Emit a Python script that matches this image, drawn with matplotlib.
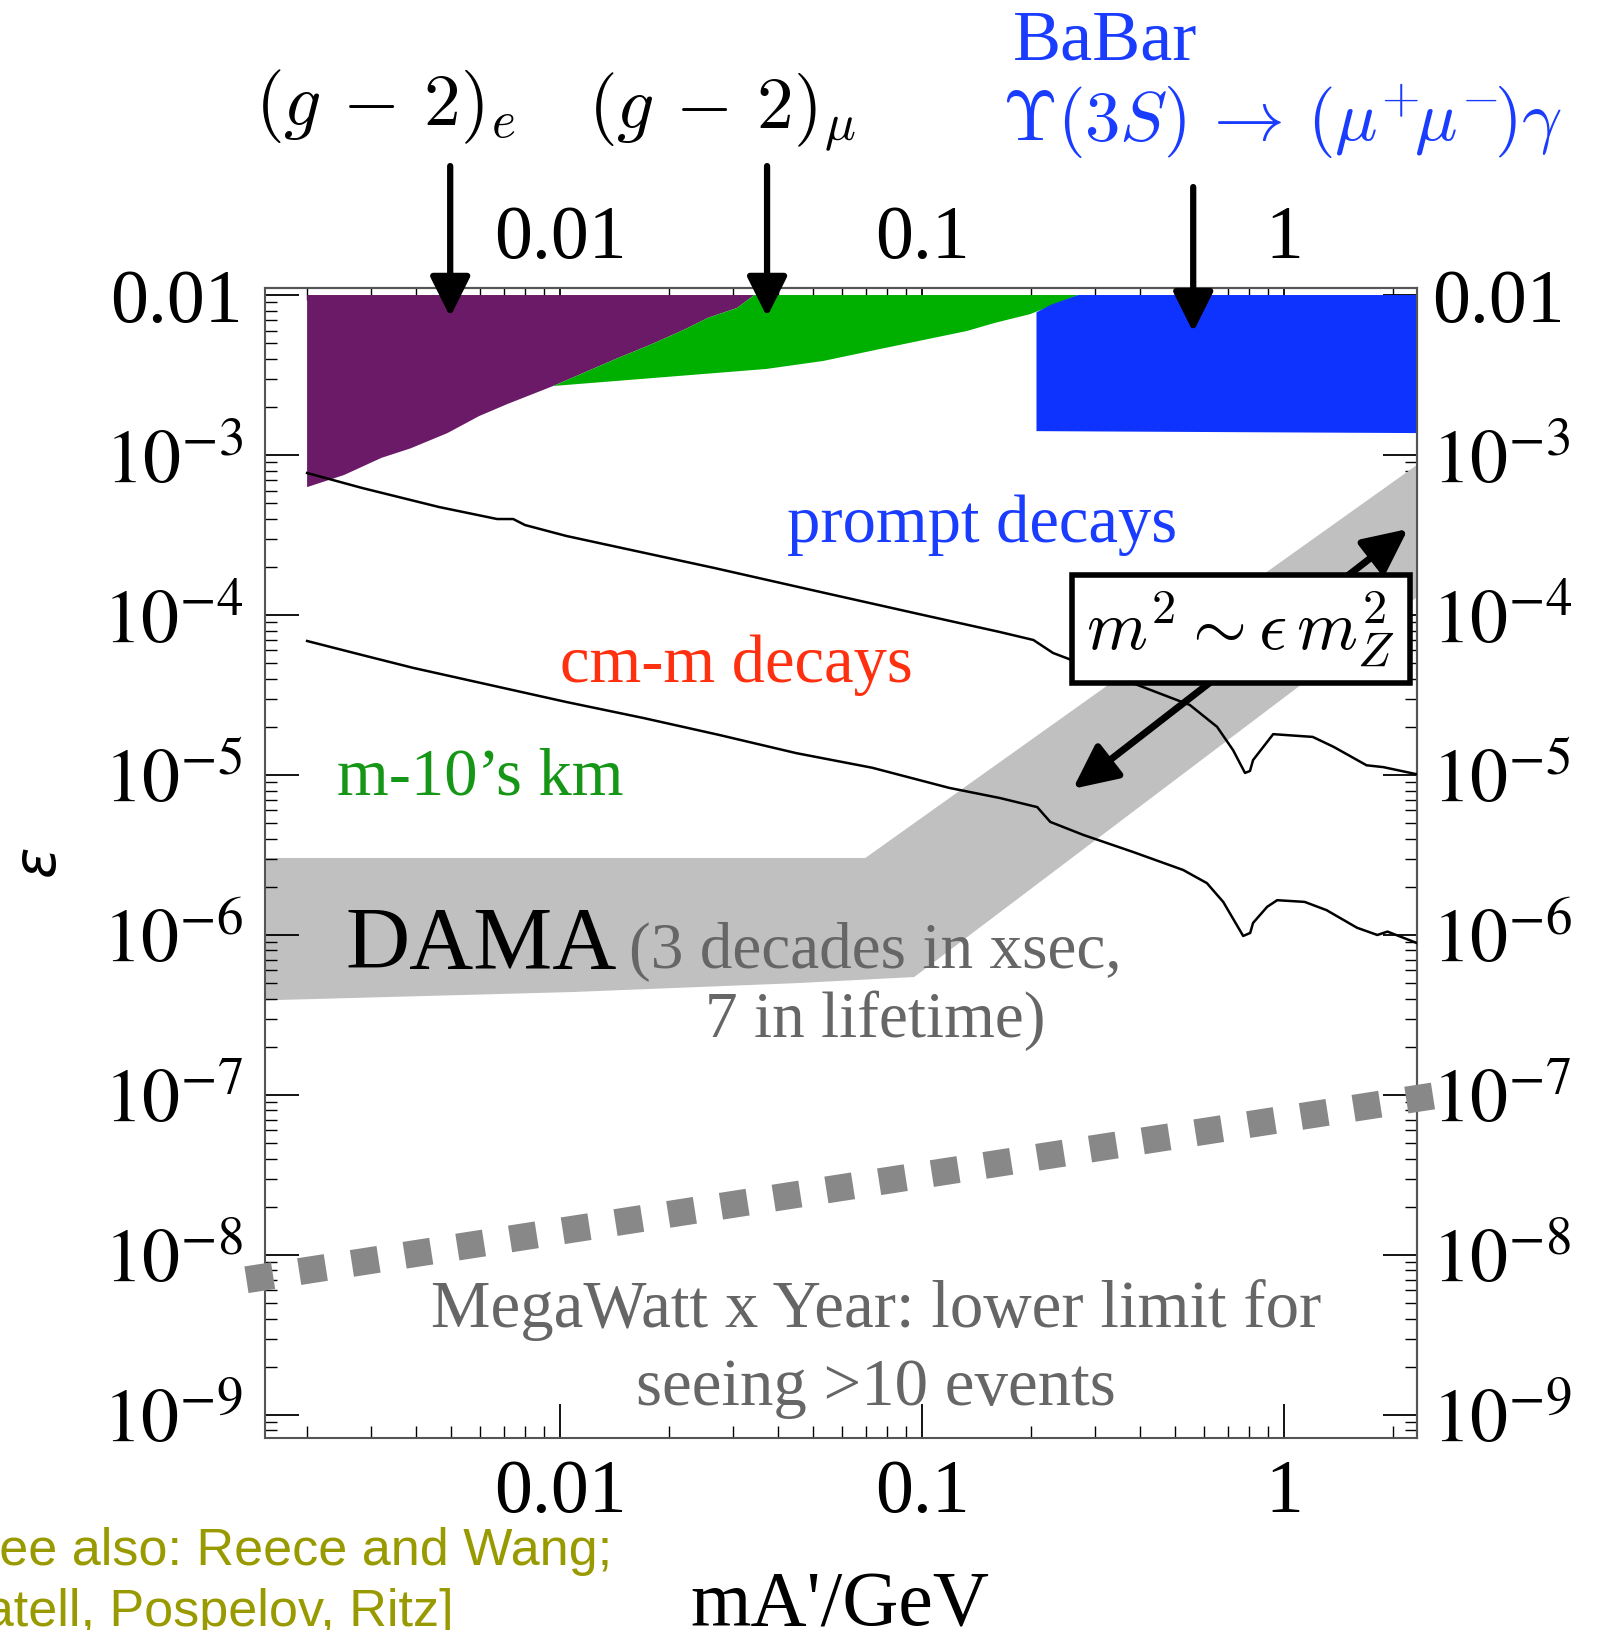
import numpy as np
import matplotlib
matplotlib.use('Agg')
import matplotlib.pyplot as plt
from matplotlib.ticker import FixedLocator, FixedFormatter, LogLocator, NullFormatter

plt.rcParams['font.family'] = ['Liberation Serif', 'DejaVu Serif']
plt.rcParams['mathtext.fontset'] = 'stix'

# --- excluded regions (mass in GeV, epsilon) ---
# (g-2)_e : lower edge of purple region
ge_edge_m = [0.0020, 0.00253, 0.00321, 0.00386, 0.00488, 0.00597, 0.00714, 0.00957]
ge_edge_eps = [6.3e-4, 7.5e-4, 9.6e-4, 1.1e-3, 1.37e-3, 1.75e-3, 2.08e-3, 2.7e-3]
# boundary between (g-2)_e and (g-2)_mu
pg_edge_m = [0.00957, 0.0143, 0.0178, 0.0221, 0.0256, 0.0308, 0.0344]
pg_edge_eps = [2.7e-3, 4.0e-3, 4.9e-3, 6.1e-3, 7.2e-3, 8.3e-3, 1e-2]
# (g-2)_mu : lower edge of green region
gm_edge_m = [0.00957, 0.0371, 0.0533, 0.0766, 0.133, 0.159, 0.199, 0.27]
gm_edge_eps = [2.7e-3, 3.45e-3, 3.87e-3, 4.6e-3, 5.96e-3, 6.7e-3, 7.6e-3, 1e-2]
eps_top = 1e-2
# BaBar
babar_m = [0.207, 0.207, 0.226, 0.27, 2.5, 2.5]
babar_eps = [1.41e-3, 7.8e-3, 8.66e-3, 1e-2, 1e-2, 1.37e-3]

# decay length contours
upper_m = [0.0020, 0.00284, 0.00463, 0.0067, 0.00742, 0.0080, 0.0104, 0.0144, 0.0266,
           0.0526, 0.1007, 0.164, 0.203, 0.230, 0.407, 0.549, 0.653, 0.723, 0.780,
           0.805, 0.821, 0.933, 1.20, 1.37, 1.69, 1.88, 2.33]
upper_eps = [7.72e-4, 6.22e-4, 4.73e-4, 3.98e-4, 3.98e-4, 3.65e-4, 3.12e-4, 2.66e-4, 1.97e-4,
             1.39e-4, 1.0e-4, 7.83e-5, 6.98e-5, 5.79e-5, 3.55e-5, 2.74e-5, 2.0e-5, 1.43e-5,
             1.03e-5, 1.06e-5, 1.24e-5, 1.80e-5, 1.73e-5, 1.50e-5, 1.15e-5, 1.12e-5, 1.01e-5]
lower_m = [0.0020, 0.00284, 0.00393, 0.00641, 0.0104, 0.0170, 0.0275, 0.0449, 0.0728,
           0.119, 0.164, 0.208, 0.226, 0.279, 0.383, 0.526, 0.612, 0.679, 0.771, 0.806,
           0.821, 0.898, 0.957, 1.14, 1.31, 1.59, 1.81, 1.93, 2.33]
lower_eps = [6.88e-5, 5.62e-5, 4.67e-5, 3.65e-5, 2.86e-5, 2.27e-5, 1.78e-5, 1.37e-5, 1.11e-5,
             8.3e-6, 7.18e-6, 6.3e-6, 5.09e-6, 4.22e-6, 3.30e-6, 2.55e-6, 2.11e-6, 1.61e-6,
             9.86e-7, 1.03e-6, 1.19e-6, 1.50e-6, 1.65e-6, 1.61e-6, 1.43e-6, 1.11e-6, 1.0e-6,
             1.05e-6, 8.9e-7]

# DAMA band
dama_up_m = [0.0015, 0.0697, 2.4]
dama_up_eps = [3.03e-6, 3.03e-6, 9.1e-4]
dama_lo_m = [0.0015, 0.0108, 0.0449, 0.0951, 2.4]
dama_lo_eps = [3.9e-7, 4.4e-7, 5.0e-7, 5.46e-7, 1.36e-4]

# MegaWatt x Year lower limit
mw_m = [0.00136, 2.61]
mw_eps = [7.0e-9, 9.9e-8]

# ticks
x_ticks = [0.01, 0.1, 1]
x_labels = ['0.01', '0.1', '1']
y_ticks = [1e-2, 1e-3, 1e-4, 1e-5, 1e-6, 1e-7, 1e-8, 1e-9]
y_labels = ['0.01', r'$10^{-3}$', r'$10^{-4}$', r'$10^{-5}$', r'$10^{-6}$',
            r'$10^{-7}$', r'$10^{-8}$', r'$10^{-9}$']

fig = plt.figure(figsize=(16.05, 16.3), dpi=100)
ax = fig.add_axes([0.1651, 0.1178, 0.7178, 0.7055])
ax.set_xscale('log')
ax.set_yscale('log')
ax.set_xlim(0.00153, 2.33)
ax.set_ylim(7.18e-10, 0.01106)

# regions
ax.fill(dama_up_m + dama_lo_m[::-1], dama_up_eps + dama_lo_eps[::-1],
        color='#c0c0c0', lw=0, zorder=1)
ax.fill([ge_edge_m[0]] + ge_edge_m + pg_edge_m[1:],
        [eps_top] + ge_edge_eps + pg_edge_eps[1:], color='#6a1a66', lw=0, zorder=2)
ax.fill(gm_edge_m + pg_edge_m[::-1], gm_edge_eps[:-1] + [eps_top] + pg_edge_eps[::-1],
        color='#00b000', lw=0, zorder=2)
ax.fill(babar_m, babar_eps, color='#0f33ff', lw=0, zorder=2.5)

ax.plot(upper_m, upper_eps, color='k', lw=1.8, zorder=3)
ax.plot(lower_m, lower_eps, color='k', lw=1.8, zorder=3)

ax.plot(mw_m, mw_eps, color='#888888', lw=19.4, dashes=(1.0, 0.98),
        solid_capstyle='butt', dash_capstyle='butt', clip_on=False, zorder=3)

# ticks
for axis, ticks, labels in [(ax.xaxis, x_ticks, x_labels), (ax.yaxis, y_ticks, y_labels)]:
    axis.set_major_locator(FixedLocator(ticks))
    axis.set_major_formatter(FixedFormatter(labels))
    axis.set_minor_locator(LogLocator(base=10, subs=np.arange(2, 10), numticks=60))
    axis.set_minor_formatter(NullFormatter())
ax.tick_params(which='major', direction='in', length=24.5, width=1.3, labelsize=54.5, color='k')
ax.tick_params(which='minor', direction='in', length=8.6, width=1.0, color='k')
ax.tick_params(axis='x', which='major', pad=15)
ax.tick_params(axis='y', which='major', pad=16)

secx = ax.secondary_xaxis('top')
secx.xaxis.set_major_locator(FixedLocator(x_ticks))
secx.xaxis.set_major_formatter(FixedFormatter(x_labels))
secx.xaxis.set_minor_locator(LogLocator(base=10, subs=np.arange(2, 10), numticks=60))
secx.xaxis.set_minor_formatter(NullFormatter())
secx.tick_params(which='major', direction='in', length=24.5, width=1.3, labelsize=54.5, pad=10)
secx.tick_params(which='minor', direction='in', length=8.6, width=1.0)

secy = ax.secondary_yaxis('right')
secy.yaxis.set_major_locator(FixedLocator(y_ticks))
secy.yaxis.set_major_formatter(FixedFormatter(y_labels))
secy.yaxis.set_minor_locator(LogLocator(base=10, subs=np.arange(2, 10), numticks=60))
secy.yaxis.set_minor_formatter(NullFormatter())
secy.tick_params(which='major', direction='in', length=24.5, width=1.3, labelsize=54.5, pad=11)
secy.tick_params(which='minor', direction='in', length=8.6, width=1.0)

for a in (ax, secx, secy):
    for sp in a.spines.values():
        sp.set_color('#555555')
        sp.set_linewidth(1.5)

# labels inside the plot
ax.text(0.1466, 2.86e-4, 'prompt decays', color='#1a3cff', fontsize=48,
        ha='center', va='baseline', zorder=4)
ax.text(0.0306, 3.81e-5, 'cm-m decays', color='#ff3010', fontsize=48,
        ha='center', va='baseline', zorder=4)
ax.text(0.00601, 7.5e-6, 'm-10\u2019s km', color='#169616', fontsize=48,
        ha='center', va='baseline', zorder=4)
ax.text(0.00256, 6.22e-7, 'DAMA', color='k', fontsize=64, ha='left', va='baseline', zorder=4)
ax.text(0.0741, 6.22e-7, '(3 decades in xsec,', color='#666666', fontsize=47,
        ha='center', va='baseline', zorder=4)
ax.text(0.0741, 2.30e-7, '7 in lifetime)', color='#666666', fontsize=47,
        ha='center', va='baseline', zorder=4)
ax.text(0.0747, 3.55e-9, 'MegaWatt x Year: lower limit for', color='#666666', fontsize=48.2,
        ha='center', va='baseline', zorder=4)
ax.text(0.0747, 1.15e-9, 'seeing >10 events', color='#666666', fontsize=48.2,
        ha='center', va='baseline', zorder=4)

# m^2 ~ eps m_Z^2 box with double arrow
ax.annotate('', xy=(2.20, 3.45e-4), xytext=(0.261, 8.2e-6),
            arrowprops=dict(arrowstyle='<|-|>,head_length=0.9,head_width=0.43',
                            mutation_scale=30, lw=5, color='k', shrinkA=0, shrinkB=0),
            annotation_clip=False, zorder=4.5)
ax.text(0.760, 8.18e-5, r'$m^2\sim\epsilon\,m_Z^2$', math_fontfamily='cm', fontsize=50,
        ha='center', va='center', zorder=6,
        bbox=dict(boxstyle='square,pad=0.21', fc='white', ec='black', lw=4))

# arrows from the top labels
for xm, y0, y1 in [(0.00497, 0.064, 7.3e-3), (0.0373, 0.064, 7.3e-3), (0.561, 0.0473, 5.87e-3)]:
    ax.annotate('', xy=(xm, y1), xytext=(xm, y0),
                arrowprops=dict(arrowstyle='-|>,head_length=0.7,head_width=0.35',
                                mutation_scale=35, lw=4.5, color='k', shrinkA=0, shrinkB=0),
                annotation_clip=False, zorder=7)

fig.text(0.2405, 0.9233, r'$(g\,-\,2)_e$', math_fontfamily='cm', fontsize=53,
         ha='center', va='baseline')
fig.text(0.4498, 0.9215, r'$(g\,-\,2)_\mu$', math_fontfamily='cm', fontsize=53,
         ha='center', va='baseline')
fig.text(0.6885, 0.9632, 'BaBar', color='#1a3cff', fontsize=52, ha='center', va='baseline')
fig.text(0.7988, 0.9141, r'$\Upsilon(3S)\,\rightarrow\,(\mu^{+}\!\mu^{-}\!)\gamma$',
         math_fontfamily='cm', color='#1a3cff', fontsize=51, ha='center', va='baseline')

# axis labels
fig.text(0.5234, 0.0025, "mA'/GeV", fontsize=56, ha='center', va='baseline')
fig.text(0.026, 0.4706, r'$\epsilon$', math_fontfamily='dejavusans', fontsize=42,
         rotation=90, ha='center', va='center')

# reference note
fig.text(-0.031, 0.0400, '[See also: Reece and Wang;', family=['Liberation Sans', 'DejaVu Sans'],
         fontsize=37.5, color='#999900', ha='left', va='baseline')
fig.text(-0.031, 0.0025, 'Batell, Pospelov, Ritz]', family=['Liberation Sans', 'DejaVu Sans'],
         fontsize=37.5, color='#999900', ha='left', va='baseline')

fig.savefig('out.png', dpi=100)
